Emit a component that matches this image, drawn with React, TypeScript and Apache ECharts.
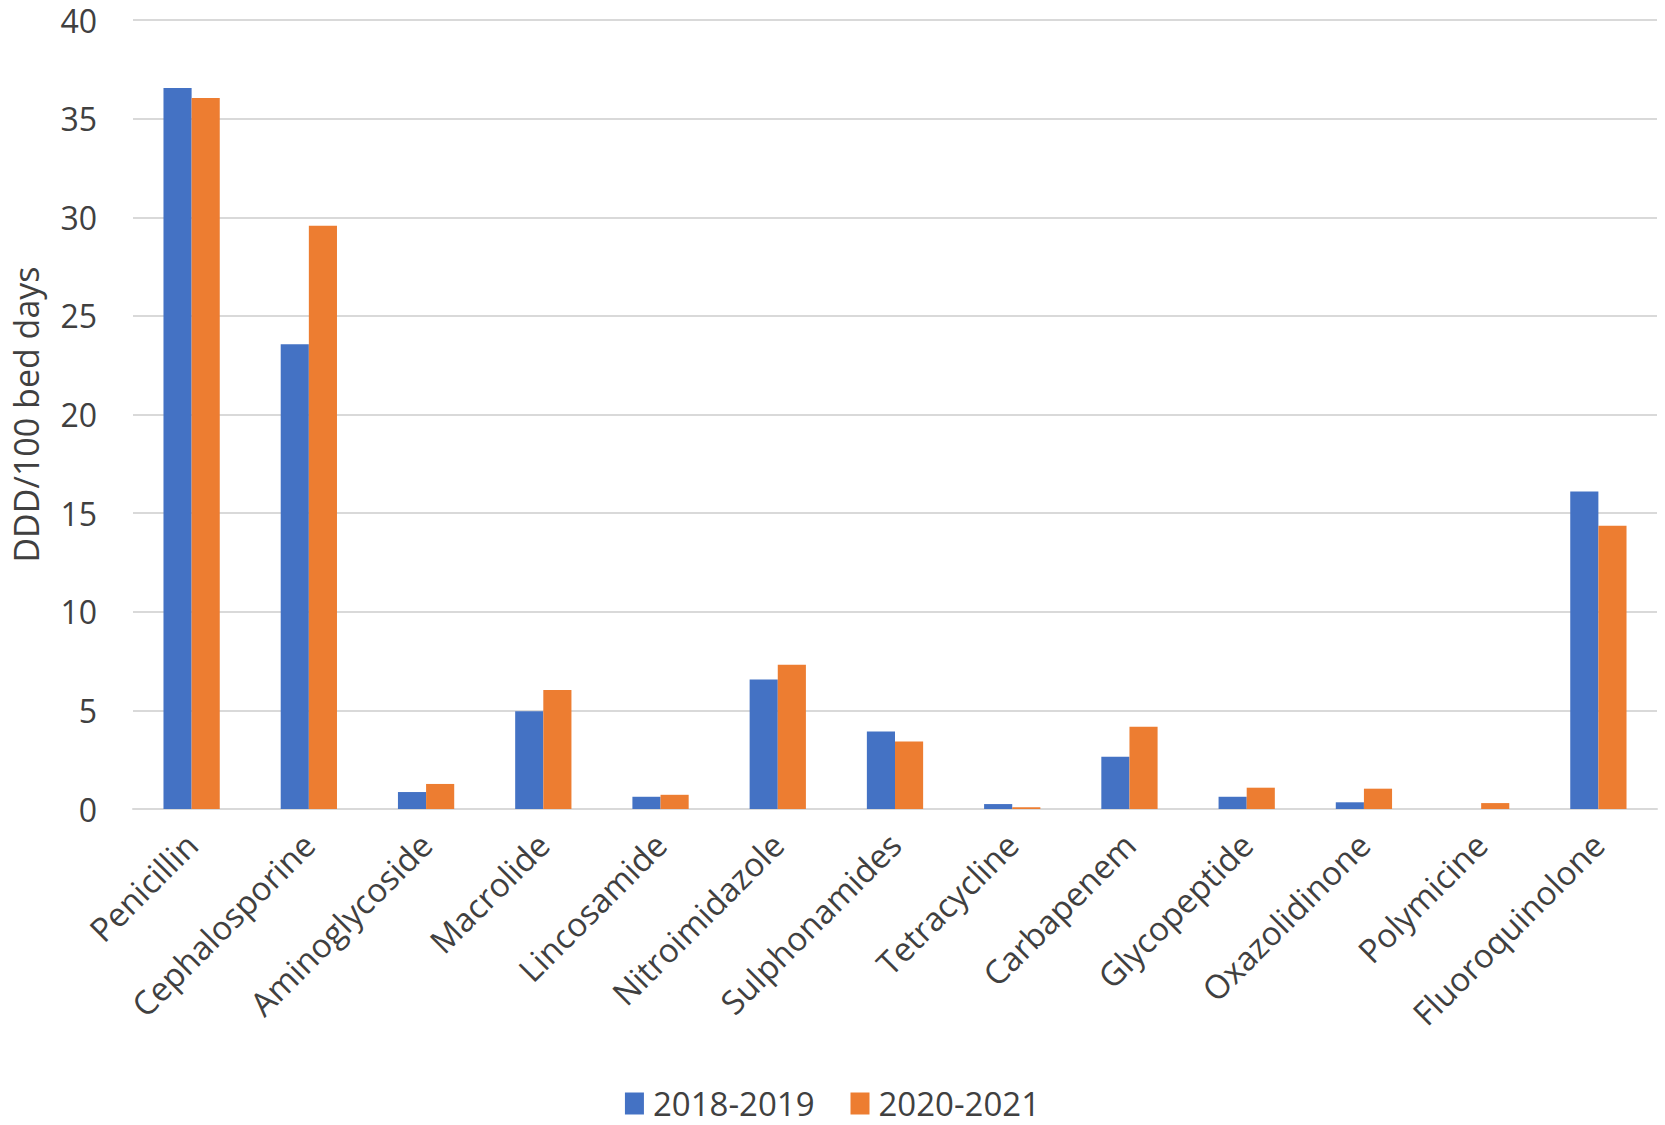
import React, { useEffect, useRef } from "react";
import * as echarts from "echarts";

const categories = [
  "Penicillin",
  "Cephalosporine",
  "Aminoglycoside",
  "Macrolide",
  "Lincosamide",
  "Nitroimidazole",
  "Sulphonamides",
  "Tetracycline",
  "Carbapenem",
  "Glycopeptide",
  "Oxazolidinone",
  "Polymicine",
  "Fluoroquinolone",
];

const series2018 = [36.55, 23.56, 0.86, 4.95, 0.62, 6.57, 3.93, 0.25, 2.65, 0.62, 0.34, 0, 16.1];
const series2020 = [36.05, 29.57, 1.27, 6.03, 0.72, 7.31, 3.42, 0.09, 4.17, 1.08, 1.03, 0.3, 14.36];

const seriesNames = ["2018-2019", "2020-2021"];
const colors = ["#4472C4", "#ED7D31"];
const yAxisName = "DDD/100 bed days";

const FONT = "'Open Sans', sans-serif";
const TEXT = "#404040";

export default function App() {
  const ref = useRef<HTMLDivElement>(null);
  useEffect(() => {
    if (!ref.current) return;
    const chart = echarts.init(ref.current, undefined, { renderer: "svg" });
    chart.setOption({
      animation: false,
      backgroundColor: "#ffffff",
      textStyle: { fontFamily: FONT, color: TEXT },
      grid: {
        left: 133,
        right: 8,
        top: 20,
        bottom: 316,
        containLabel: false,
        outerBoundsMode: "none",
      },
      legend: {
        bottom: 0,
        left: "center",
        itemWidth: 19,
        itemHeight: 22,
        itemGap: 36,
        icon: "rect",
        data: seriesNames,
        textStyle: { fontFamily: FONT, fontSize: 33, color: TEXT, padding: [0, 0, 0, 4] },
      },
      xAxis: {
        type: "category",
        data: categories,
        axisLine: { show: true, lineStyle: { color: "#d9d9d9", width: 2 } },
        axisTick: { show: false },
        axisLabel: {
          rotate: 45,
          interval: 0,
          margin: 30,
          fontFamily: FONT,
          fontSize: 33,
          color: TEXT,
        },
      },
      yAxis: {
        type: "value",
        min: 0,
        max: 40,
        interval: 5,
        name: yAxisName,
        nameLocation: "middle",
        nameGap: 90,
        nameTextStyle: { fontFamily: FONT, fontSize: 34, color: TEXT },
        axisLine: { show: false },
        axisTick: { show: false },
        axisLabel: { margin: 36, fontFamily: FONT, fontSize: 32, color: TEXT },
        splitLine: { lineStyle: { color: "#d9d9d9", width: 2 } },
      },
      series: [
        {
          name: seriesNames[0],
          type: "bar",
          data: series2018,
          itemStyle: { color: colors[0] },
          barGap: "0%",
          barCategoryGap: "52%",
        },
        {
          name: seriesNames[1],
          type: "bar",
          data: series2020,
          itemStyle: { color: colors[1] },
          barGap: "0%",
          barCategoryGap: "52%",
        },
      ],
    });
    return () => chart.dispose();
  }, []);
  return (
    <div
      ref={ref}
      style={{ position: "absolute", left: 0, top: 0, width: 1665, height: 1125 }}
    />
  );
}
